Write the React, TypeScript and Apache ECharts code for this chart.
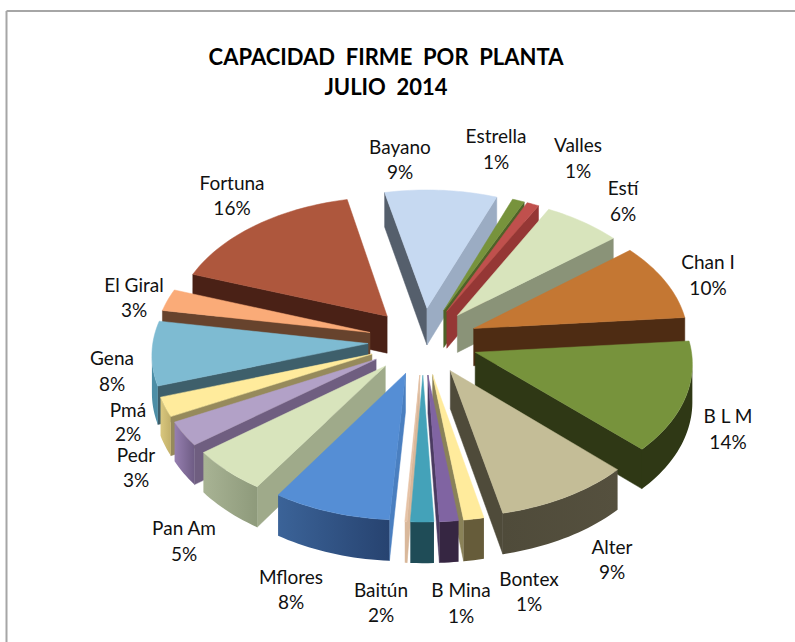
import React, { useEffect, useRef } from "react";
import * as echarts from "echarts";

// ---- data (share of firm capacity, %) ----
const plants = ["Bayano", "Estrella", "Valles", "Estí", "Chan I", "B L M", "Alter", "Bontex", "B Mina", "Baitún", "", "Mflores", "Pan Am", "Pedr", "Pmá", "Gena", "El Giral", "Fortuna"];
const shares = [9.2, 1.0, 1.0, 6.4, 9.55, 13.6, 9.4, 1.4, 1.3, 1.6, 0.15, 8.15, 5.4, 3.0, 2.4, 7.9, 2.7, 16.2];
const titleLines = ["CAPACIDAD  FIRME  POR  PLANTA", "JULIO  2014"];

// ---- styles: [top, outer wall left, outer wall right, wall at start edge, wall at end edge] ----
const palette: string[][] = [
  ["#C6D9F1", "#8497AE", "#8497AE", "#555F6C", "#9BACC3"],
  ["#77933C", "#4F6228", "#4F6228", "#4F6228", "#4F6228"],
  ["#C0504D", "#953735", "#953735", "#953735", "#953735"],
  ["#D8E4BC", "#8A9378", "#8A9378", "#8A9378", "#8A9378"],
  ["#C47733", "#5A3316", "#4E2C13", "#4E2C13", "#4E2C13"],
  ["#77933C", "#2F3815", "#2F3815", "#2F3815", "#2F3815"],
  ["#C4BD97", "#4F4B3A", "#55503E", "#4F4B3A", "#4F4B3A"],
  ["#FFEB9C", "#665C3A", "#665C3A", "#665C3A", "#8A8258"],
  ["#8064A2", "#362642", "#362642", "#362642", "#4A3A60"],
  ["#44A2B9", "#1F4C57", "#1F4C57", "#1F4C57", "#1F4C57"],
  ["#E6C3A6", "#D9B89B", "#D9B89B", "#D9B89B", "#D9B89B"],
  ["#558ED5", "#3B6398", "#274370", "#4A7FC0", "#4A7FC0"],
  ["#D8E4BC", "#A8B394", "#8E9A7B", "#9FAA8A", "#9FAA8A"],
  ["#B2A1C7", "#967FB0", "#6E5C84", "#6F5E80", "#6F5E80"],
  ["#FFEB9C", "#D9C77E", "#C2B06A", "#968A5C", "#968A5C"],
  ["#7EBBD2", "#4D8EA6", "#4D8EA6", "#3E5F6B", "#3E5F6B"],
  ["#FAAB78", "#67432D", "#67432D", "#67432D", "#67432D"],
  ["#AE573D", "#4A2116", "#4A2116", "#4A2116", "#4A2116"],
];

// ---- label layout: centre x, y of name line, y of percent line ----
const labelLayout: number[][] = [
  [400, 146, 171], [496, 135, 161], [578, 144, 170], [623, 187, 213], [708, 261, 287], [728, 415, 441],
  [612, 546, 571], [529, 578, 603], [461, 589, 615], [381, 589, 614], [0, 0, 0], [291, 576, 601],
  [184, 527, 553], [136, 454, 479], [128, 409, 433], [112, 357, 383], [134, 284, 309], [232, 182, 207],
];

// ---- projection of the tilted pie ----
const CX = 423, CY = 341, RADIUS = 215, EXPLODE = 55, TILT = 0.61, PERSP = 0.000333, DEPTH = 37.5;
const START_DEG = -12.3;
const FONT = "Lato, Carlito, Calibri, sans-serif";

type Pt = { x: number; y: number; ly: number };
const project = (X: number, Y: number): Pt => {
  const s = 1 / (1 + PERSP * Y);
  return { x: CX + X * s, y: CY - TILT * Y * s, ly: CY - TILT * Y * s + DEPTH * s };
};

const total = shares.reduce((a, b) => a + b, 0);
const slices = shares.map((v, i) => {
  const before = shares.slice(0, i).reduce((a, b) => a + b, 0);
  const a0 = START_DEG + (before / total) * 360;
  const a1 = a0 + (v / total) * 360;
  return { i, a0, a1, mid: (a0 + a1) / 2 };
});
// painter's order: far slices first
const drawOrder = [...slices].sort(
  (p, q) => Math.cos((q.mid * Math.PI) / 180) - Math.cos((p.mid * Math.PI) / 180)
);

function wall(a: Pt, b: Pt, fill: string) {
  return {
    type: "polygon",
    shape: { points: [[a.x, a.y], [b.x, b.y], [b.x, b.ly], [a.x, a.ly]] },
    style: { fill, stroke: fill, lineWidth: 0.5 },
  };
}

function outerWall(run: Pt[], left: string, right: string) {
  const top = run.map((p) => [p.x, p.y]);
  const bottom = [...run].reverse().map((p) => [p.x, p.ly]);
  return {
    type: "polygon",
    shape: { points: [...top, ...bottom] },
    style: {
      fill: {
        type: "linear",
        x: 0, y: 0, x2: 1, y2: 0,
        colorStops: [
          { offset: 0, color: left },
          { offset: 1, color: right },
        ],
      },
    },
  };
}

function renderSlice(params: any) {
  const sl = drawOrder[params.dataIndex];
  const colors = palette[sl.i];
  const rad = (sl.mid * Math.PI) / 180;
  const ox = EXPLODE * Math.sin(rad), oy = EXPLODE * Math.cos(rad);
  const apex = project(ox, oy);
  const steps = Math.max(4, Math.ceil((sl.a1 - sl.a0) / 1.5));
  const arc: Pt[] = [];
  for (let k = 0; k <= steps; k++) {
    const t = ((sl.a0 + ((sl.a1 - sl.a0) * k) / steps) * Math.PI) / 180;
    arc.push(project(ox + RADIUS * Math.sin(t), oy + RADIUS * Math.cos(t)));
  }
  const first = arc[0], last = arc[arc.length - 1];
  const children: any[] = [];
  if (first.x < apex.x) children.push(wall(apex, first, colors[3]));
  if (apex.x < last.x) children.push(wall(last, apex, colors[4]));
  // the part of the rim that runs leftwards on screen faces the viewer
  const run: Pt[] = [];
  for (let k = 0; k < arc.length - 1; k++) {
    if (arc[k + 1].x < arc[k].x) {
      if (!run.length) run.push(arc[k]);
      run.push(arc[k + 1]);
    }
  }
  if (run.length > 1) children.push(outerWall(run, colors[1], colors[2]));
  children.push({
    type: "polygon",
    shape: { points: [apex, ...arc].map((p) => [p.x, p.y]) },
    style: { fill: colors[0], stroke: colors[0], lineWidth: 0.5 },
  });
  const name = plants[sl.i];
  if (name) {
    const [lx, ly1, ly2] = labelLayout[sl.i];
    const pct = Math.round((shares[sl.i] / total) * 100) + "%";
    const txt = (text: string, y: number) => ({
      type: "text",
      z2: 100,
      style: { text, x: lx, y, textAlign: "center", textVerticalAlign: "middle", fontSize: 19, fontFamily: FONT, fill: "#111111" },
    });
    children.push(txt(name, ly1), txt(pct, ly2));
  }
  return { type: "group", children };
}

export default function App() {
  const ref = useRef<HTMLDivElement>(null);
  useEffect(() => {
    const chart = echarts.init(ref.current!, undefined, { renderer: "svg" });
    chart.setOption({
      animation: false,
      backgroundColor: "#ffffff",
      title: {
        text: titleLines.join("\n"),
        left: 381,
        top: 36,
        textAlign: "center",
        textStyle: { fontFamily: FONT, fontWeight: "bold", fontSize: 22, lineHeight: 30, color: "#000000" },
      },
      graphic: [
        { type: "line", shape: { x1: 6.5, y1: 11, x2: 795, y2: 11 }, style: { stroke: "#A6A6A6", lineWidth: 2 } },
        { type: "line", shape: { x1: 6.5, y1: 11, x2: 6.5, y2: 642 }, style: { stroke: "#A6A6A6", lineWidth: 2 } },
      ],
      series: [
        {
          type: "custom",
          coordinateSystem: "none",
          renderItem: renderSlice,
          data: drawOrder.map((s) => ({ name: plants[s.i], value: shares[s.i] })),
        },
      ],
    });
    return () => chart.dispose();
  }, []);
  return <div ref={ref} style={{ position: "absolute", left: 0, top: 0, width: 795, height: 642 }} />;
}
